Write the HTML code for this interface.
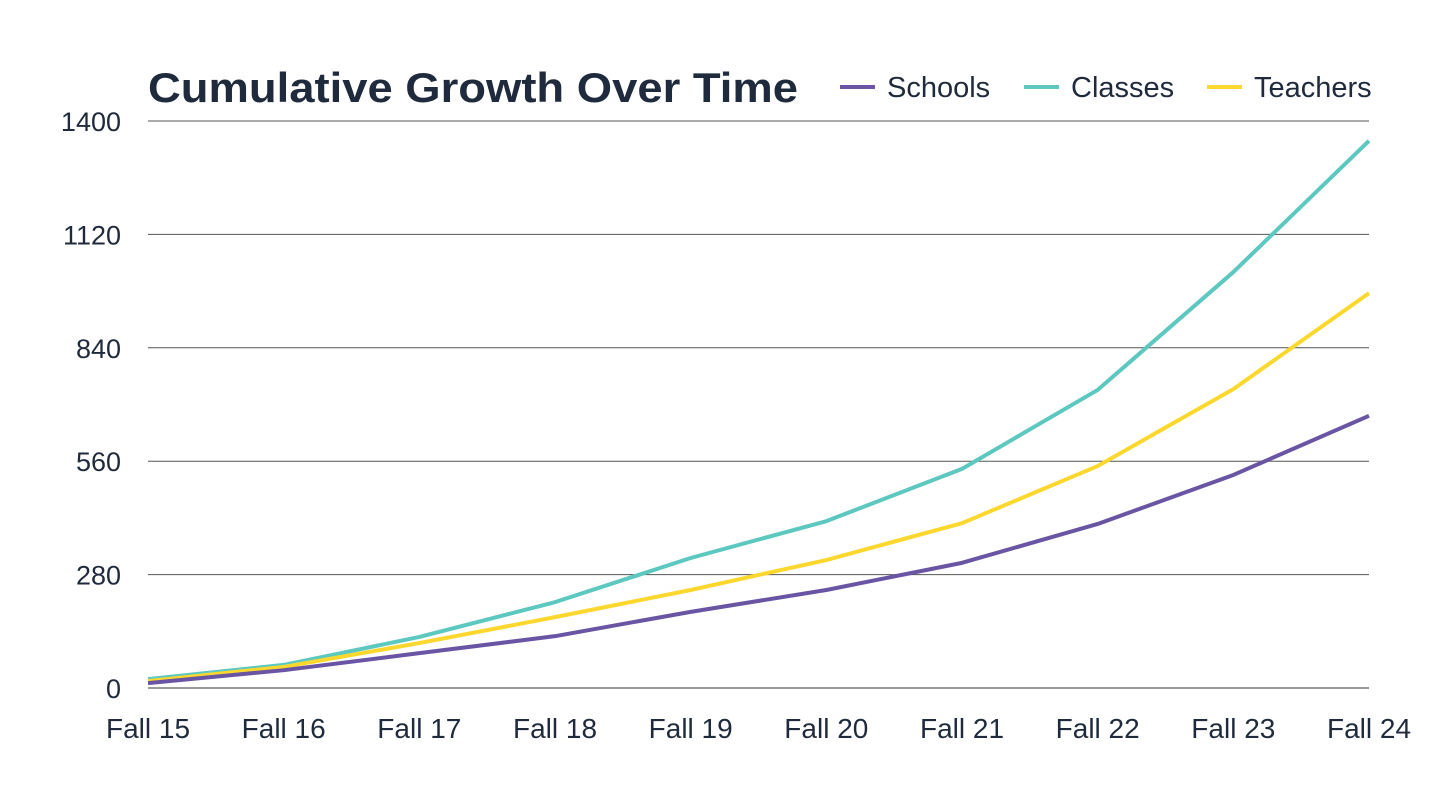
<!DOCTYPE html>
<html><head><meta charset="utf-8"><style>
html,body{margin:0;padding:0;background:#fff;width:1440px;height:810px;overflow:hidden}
svg text{font-family:"Liberation Sans",sans-serif;fill:#1f2a3c}
</style></head><body>
<svg id="chart" width="1440" height="810">
<text x="148" y="102" font-size="42" font-weight="bold" fill="#253145" textLength="650" lengthAdjust="spacingAndGlyphs">Cumulative Growth Over Time</text>
<g id="grid"></g><g id="series"></g><g id="legend"></g>
</svg>
<script>
const categories=["Fall 15","Fall 16","Fall 17","Fall 18","Fall 19","Fall 20","Fall 21","Fall 22","Fall 23","Fall 24"];
const schools=[12,44,86,128,188,242,309,405,526,672];
const classes=[22,57,126,212,321,412,541,736,1027,1351];
const teachers=[17,52,111,175,242,316,407,548,738,975];
const yTicks=[0,280,560,840,1120,1400];
const seriesNames=["Schools","Classes","Teachers"];
const NS="http://www.w3.org/2000/svg";
const x0=148,x1=1369,yb=688,yt=121,ymax=1400;
const xs=i=>x0+(x1-x0)*i/(categories.length-1);
const ys=v=>yb-(yb-yt)*v/ymax;
function mk(t,a,p){const e=document.createElementNS(NS,t);for(const k in a)e.setAttribute(k,a[k]);p.appendChild(e);return e;}
const grid=document.getElementById('grid');
yTicks.forEach(v=>{
 const l=mk('line',{x1:x0,x2:x1,y1:ys(v),y2:ys(v),stroke:v===0?'#333':'#555','stroke-width':1},grid);
 
 
 const t=mk('text',{x:121,y:ys(v)+10,'font-size':27,'text-anchor':'end'},grid);t.textContent=v;
 
 
});
categories.forEach((c,i)=>{
 const t=mk('text',{x:xs(i),y:738,'font-size':28,'text-anchor':'middle'},grid);t.textContent=c;
 
 
});
const data=[schools,classes,teachers];
const colors=["#6a55a4","#5cc8bf","#fcd82f"];
const sg=document.getElementById('series');
[1,2,0].forEach(k=>{
 const p=mk('polyline',{points:data[k].map((v,i)=>xs(i)+','+ys(v)).join(' '),fill:'none',stroke:colors[k],'stroke-width':4,'stroke-linejoin':'round'},sg);
 
 
});
const lg=document.getElementById('legend');
const lx=[840,1024,1207];
seriesNames.forEach((n,k)=>{
 const g=mk('g',{},lg);
 
 
 mk('line',{x1:lx[k],x2:lx[k]+35,y1:87,y2:87,stroke:colors[k],'stroke-width':4},g);
 const t=mk('text',{x:lx[k]+47,y:97,'font-size':29},g);t.textContent=n;
});
</script>
</body></html>
